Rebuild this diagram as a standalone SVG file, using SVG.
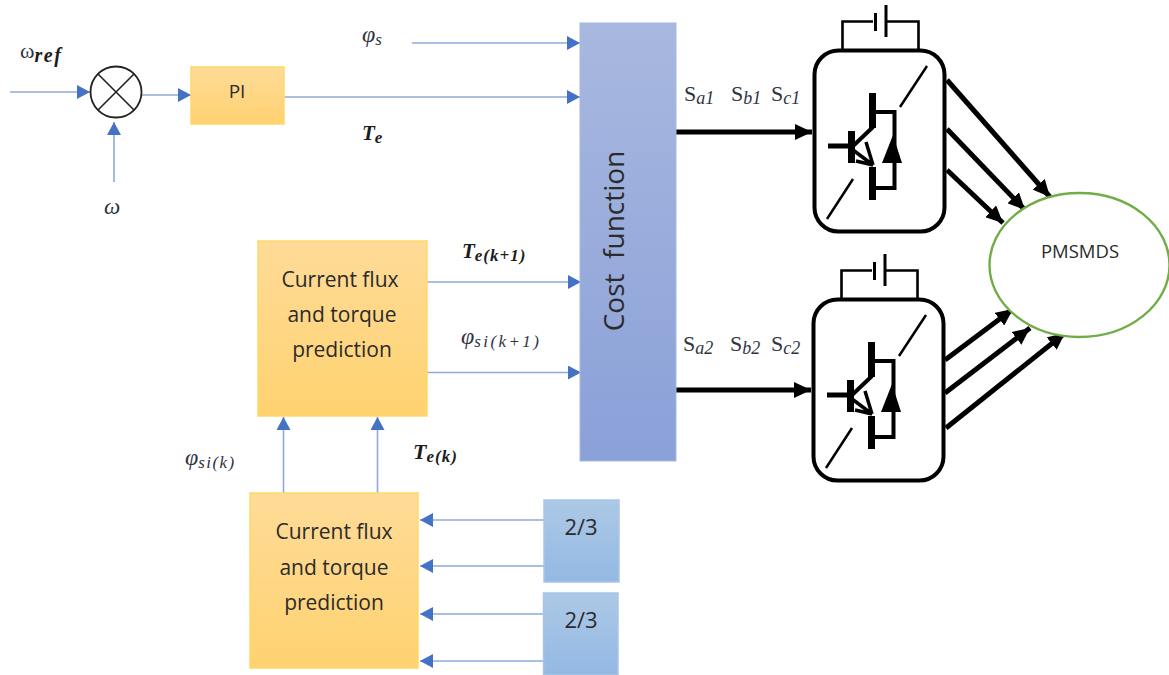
<svg xmlns="http://www.w3.org/2000/svg" xmlns:xlink="http://www.w3.org/1999/xlink" width="1169" height="675" viewBox="0 0 1169 675">
<style>
.t{font-family:"Open Sans","Noto Sans",sans-serif;fill:#2b2b2b;text-anchor:middle}
.m{font-family:"Liberation Serif",serif;fill:#2f3540}
.mb{font-family:"Liberation Serif",serif;font-weight:bold;font-style:italic;fill:#1c1c1c}
.sub{font-size:18px;font-style:italic}
.blue{stroke:#8faadc;stroke-width:1.6;fill:none}
.blk{stroke:#000;stroke-width:5;fill:none}
.orange{stroke:#ffd966;stroke-width:1.5}
.lb{stroke:#a9c5e8;stroke-width:1.5}
</style>
<defs>
<linearGradient id="go" x1="0" y1="0" x2="0" y2="1"><stop offset="0" stop-color="#fedb98"/><stop offset="1" stop-color="#ffd270"/></linearGradient>
<linearGradient id="gc" x1="0" y1="0" x2="0" y2="1"><stop offset="0" stop-color="#a8b8df"/><stop offset="1" stop-color="#8aa0d8"/></linearGradient>
<linearGradient id="gb" x1="0" y1="0" x2="0" y2="1"><stop offset="0" stop-color="#adc8e6"/><stop offset="1" stop-color="#93b9e3"/></linearGradient>
<marker id="ab" markerUnits="userSpaceOnUse" markerWidth="14" markerHeight="14" refX="13" refY="7" orient="auto"><path d="M0 0L13 7L0 14Z" fill="#4472c4"/></marker>
<marker id="ak" markerUnits="userSpaceOnUse" markerWidth="18" markerHeight="16" refX="17" refY="8" orient="auto"><path d="M0 0L17 8L0 16Z" fill="#000"/></marker>
<g id="inv">
<rect x="814.5" y="50.5" width="130" height="181" rx="24" fill="#fff" stroke="#000" stroke-width="4"/>
<path d="M842.500 50V21.500H873M886 21.500H918.500V50" fill="none" stroke="#000" stroke-width="2.600"/>
<path d="M875.500 13V31M886 5V37" fill="none" stroke="#000" stroke-width="3"/>
<path d="M927 66L900 107M853 179L827 219" fill="none" stroke="#000" stroke-width="2.500"/>
<path d="M828 146H852" fill="none" stroke="#000" stroke-width="5"/>
<rect x="848" y="131" width="7" height="32" fill="#000"/>
<rect x="869" y="93" width="7" height="35" fill="#000"/>
<rect x="869" y="167" width="7" height="33" fill="#000"/>
<path d="M873 127L853 146M872 112H894.500V188H872" fill="none" stroke="#000" stroke-width="4"/>
<path d="M882 163H902L893 135Z" fill="#000"/>
<path d="M853 150L873 165L856 161M866 142L873 165" fill="none" stroke="#000" stroke-width="3.500"/>
</g>
</defs>
<g id="connectors">
<path class="blue" d="M10 92H90" marker-end="url(#ab)"/>
<path class="blue" d="M142 95H191" marker-end="url(#ab)"/>
<path class="blue" d="M114 182V122" marker-end="url(#ab)"/>
<path class="blue" d="M412 43H580" marker-end="url(#ab)"/>
<path class="blue" d="M284 97H580" marker-end="url(#ab)"/>
<path class="blue" d="M427 282H581" marker-end="url(#ab)"/>
<path class="blue" d="M427 372.500H581" marker-end="url(#ab)"/>
<path class="blue" d="M283.500 493V417" marker-end="url(#ab)"/>
<path class="blue" d="M377.500 493V417" marker-end="url(#ab)"/>
<path class="blue" d="M544 520H420" marker-end="url(#ab)"/>
<path class="blue" d="M544 566H420" marker-end="url(#ab)"/>
<path class="blue" d="M544 614H420" marker-end="url(#ab)"/>
<path class="blue" d="M544 661H420" marker-end="url(#ab)"/>
<path class="blk" d="M676 132H812" marker-end="url(#ak)"/>
<path class="blk" d="M676 390H811" marker-end="url(#ak)"/>
<path class="blk" d="M947 80L1050 197" marker-end="url(#ak)"/>
<path class="blk" d="M947 129L1025 210" marker-end="url(#ak)"/>
<path class="blk" d="M947 170L1003 223" marker-end="url(#ak)"/>
<path class="blk" d="M945 360L1013 309" marker-end="url(#ak)"/>
<path class="blk" d="M945 393L1030 328" marker-end="url(#ak)"/>
<path class="blk" d="M946 428L1065 333" marker-end="url(#ak)"/>
</g>
<g id="sum"><circle cx="116" cy="92" r="25.500" fill="#fff" stroke="#222" stroke-width="1.800"/><path d="M98 74L134 110M134 74L98 110" stroke="#222" stroke-width="1.600"/></g>
<g id="pi"><rect class="orange" x="191" y="67" width="93" height="57" fill="url(#go)"/><text class="t" x="237" y="98" font-size="19">PI</text></g>
<g id="cost"><rect x="580" y="23" width="96" height="438" fill="url(#gc)" stroke="#a8b8df"/><text class="t" transform="translate(624 241) rotate(-90)" font-size="28" xml:space="preserve">Cost  function</text></g>
<g id="pred1"><rect class="orange" x="258" y="241" width="169" height="175" fill="url(#go)"/>
<text class="t" x="340" y="287" font-size="21">Current flux</text><text class="t" x="342" y="322" font-size="21">and torque</text><text class="t" x="342" y="357" font-size="21">prediction</text></g>
<g id="pred2"><rect class="orange" x="250" y="493" width="168" height="175" fill="url(#go)"/>
<text class="t" x="334" y="539" font-size="21">Current flux</text><text class="t" x="334" y="575" font-size="21">and torque</text><text class="t" x="334" y="610" font-size="21">prediction</text></g>
<g id="conv1"><rect class="lb" x="544" y="500" width="75" height="82" fill="url(#gb)"/><text class="t" x="581" y="535" font-size="22">2/3</text></g>
<g id="conv2"><rect class="lb" x="543.500" y="593" width="74.500" height="82" fill="url(#gb)"/><text class="t" x="581" y="628" font-size="22">2/3</text></g>
<g id="inv1"><use xlink:href="#inv" href="#inv"/></g>
<g id="inv2"><use xlink:href="#inv" href="#inv" transform="translate(-1 249)"/></g>
<g id="pmsm"><ellipse cx="1079.500" cy="265" rx="90" ry="72" fill="#fff" stroke="#70ad47" stroke-width="2.400"/><text class="t" x="1080" y="258" font-size="18.500">PMSMDS</text></g>
<g id="labels">
<text class="m" x="20" y="58" font-size="22">ω<tspan class="mb" font-size="20" dy="4" letter-spacing="1.500">ref</tspan></text>
<text class="m" x="362" y="42" font-size="24" font-style="italic">φ<tspan font-size="17" dy="3">s</tspan></text>
<text class="mb" x="362" y="140" font-size="21">T<tspan font-size="17" dy="3">e</tspan></text>
<text class="m" x="104" y="214" font-size="23" font-style="italic">ω</text>
<text class="mb" x="462" y="258" font-size="21">T<tspan font-size="17" dy="3" letter-spacing="1">e(k+1)</tspan></text>
<text class="m" x="461" y="344" font-size="24" font-style="italic">φ<tspan font-size="17" dy="3" letter-spacing="2.400">si(k+1)</tspan></text>
<text class="m" x="185" y="465" font-size="24" font-style="italic">φ<tspan font-size="17" dy="3" letter-spacing="1.400">si(k)</tspan></text>
<text class="mb" x="413" y="459" font-size="22">T<tspan font-size="17" dy="3" letter-spacing="1">e(k)</tspan></text>
<text class="m" x="684" y="101" font-size="22">S<tspan class="sub" dy="3">a1</tspan></text>
<text class="m" x="731" y="101" font-size="22">S<tspan class="sub" dy="3">b1</tspan></text>
<text class="m" x="771" y="101" font-size="22">S<tspan class="sub" dy="3">c1</tspan></text>
<text class="m" x="683" y="351" font-size="22">S<tspan class="sub" dy="3">a2</tspan></text>
<text class="m" x="730" y="351" font-size="22">S<tspan class="sub" dy="3">b2</tspan></text>
<text class="m" x="771" y="351" font-size="22">S<tspan class="sub" dy="3">c2</tspan></text>
</g>
</svg>
